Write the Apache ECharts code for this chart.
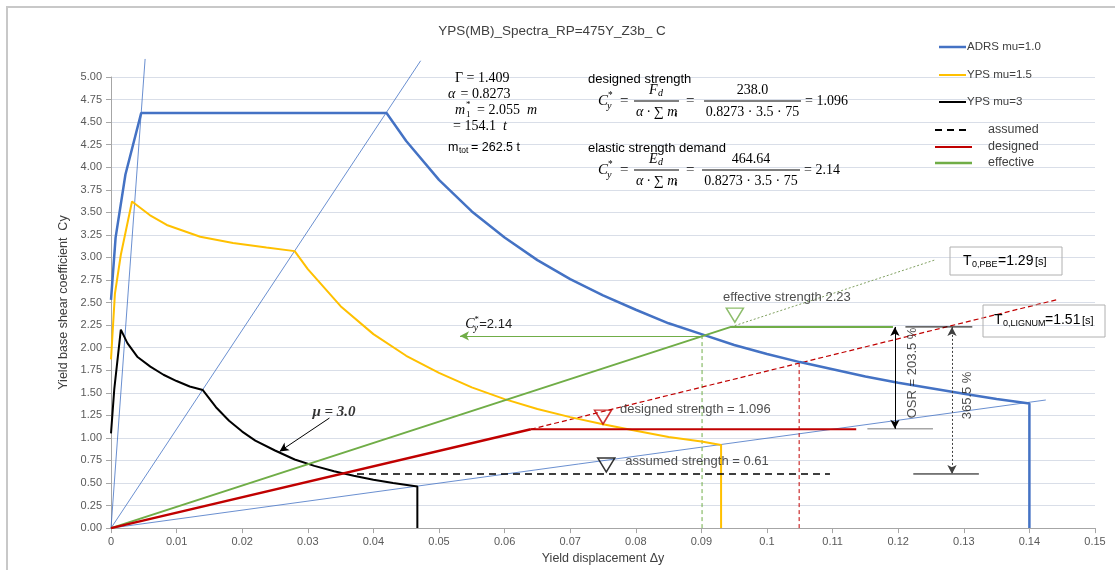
<!DOCTYPE html>
<html>
<head>
<meta charset="utf-8">
<script src="https://cdn.jsdelivr.net/npm/echarts@6/dist/echarts.min.js"></script>
<style>html,body{margin:0;padding:0;background:#fff;overflow:hidden}#c{width:1115px;height:570px}</style>
</head>
<body>
<div id="c"></div>
<script>
// ---------------- DATA ----------------
const chartTitle = 'YPS(MB)_Spectra_RP=475Y_Z3b_ C';
const xAxisName = 'Yield displacement Δy';
const yAxisName = 'Yield base shear coefficient  Cy';
const seriesNames = ['ADRS mu=1.0', 'YPS mu=1.5', 'YPS mu=3'];
const strengthNames = ['assumed', 'designed', 'effective'];

const adrs = [[0,2.53],[0.0007,3.22],[0.0022,3.92],[0.0046,4.6],[0.042,4.6],[0.045,4.29],[0.05,3.86],[0.055,3.51],[0.06,3.22],[0.065,2.97],[0.07,2.76],[0.075,2.58],[0.08,2.42],[0.085,2.27],[0.09,2.15],[0.095,2.03],[0.1,1.93],[0.105,1.84],[0.11,1.76],[0.115,1.68],[0.12,1.61],[0.125,1.55],[0.13,1.49],[0.135,1.43],[0.14,1.38],[0.14,0]];
const yps15 = [[0,1.87],[0.0006,2.6],[0.0015,3.03],[0.0032,3.62],[0.0059,3.47],[0.0085,3.36],[0.0136,3.23],[0.0186,3.16],[0.0237,3.11],[0.028,3.07],[0.03,2.87],[0.035,2.46],[0.04,2.15],[0.045,1.91],[0.05,1.72],[0.055,1.56],[0.06,1.43],[0.065,1.32],[0.07,1.23],[0.075,1.15],[0.08,1.08],[0.085,1.01],[0.09,0.96],[0.093,0.92],[0.093,0]];
const yps3 = [[0,1.05],[0.0005,1.54],[0.0015,2.2],[0.0025,2.05],[0.004,1.9],[0.006,1.79],[0.008,1.7],[0.01,1.63],[0.012,1.57],[0.014,1.53],[0.016,1.34],[0.018,1.19],[0.02,1.07],[0.022,0.97],[0.025,0.86],[0.028,0.76],[0.031,0.69],[0.034,0.63],[0.037,0.58],[0.04,0.535],[0.043,0.5],[0.0467,0.46],[0.0467,0]];

const periodLineTb = [[0,0],[0.0052,5.2]];
const periodLineTc = [[0,0],[0.0472,5.18]];
const periodLineTd = [[0,0],[0.1425,1.42]];

const effective = [[0,0],[0.0945,2.23],[0.1192,2.23]];
const effectiveExt = [[0.0945,2.23],[0.1255,2.97]];
const effectiveVert = [[0.0901,0],[0.0901,2.16]];
const designedRise = [[0,0],[0.064,1.096]];
const designedFlat = [[0.064,1.096],[0.1136,1.096]];
const designedExt = [[0.064,1.096],[0.1441,2.53]];
const designedVert = [[0.1049,0],[0.1049,1.84]];
const assumed = [[0.0375,0.6],[0.1096,0.6]];

const effMarker = [[0.0951,2.36]];
const desMarker = [[0.075,1.23]];
const assMarker = [[0.0755,0.70]];

const cyArrow = [[0.0901,2.13],[0.0532,2.13]];
const muArrow = [[0.0333,1.22],[0.0257,0.85]];
const osrArrow = [[0.1195,2.23],[0.1195,1.1]];
const totalArrow = [[0.1282,2.23],[0.1282,0.6]];
const osrTop = [[0.1211,2.23],[0.1313,2.23]];
const osrBottom = [[0.1153,1.1],[0.1253,1.1]];
const totalBottom = [[0.1223,0.6],[0.1323,0.6]];

const plainLabels = [
  ['effective strength 2.23', 0.0933, 2.56],
  ['designed strength = 1.096', 0.0776, 1.32],
  ['assumed strength = 0.61', 0.0784, 0.74]
];
const rotatedLabels = [
  ['OSR = 203.5 %', 0.1221, 1.72],
  ['365.5 %', 0.1305, 1.47]
];
const muLabel = ['μ = 3.0', 0.0307, 1.28];
const cyLabel = ['=2.14', 0.054, 2.26];

const paramLines = ['Γ = 1.409', 'α = 0.8273', '= 2.055', '= 154.1', '= 262.5 t'];
const formula1 = {title:'designed strength', num:'238.0', den:'0.8273 · 3.5 · 75', res:'= 1.096', sym:'F'};
const formula2 = {title:'elastic strength demand', num:'464.64', den:'0.8273 · 3.5 · 75', res:'= 2.14', sym:'E'};
const periodBoxes = [['0,PBE', '=1.29'], ['0,LIGNUM', '=1.51']];

// ---------------- CHART ----------------
const SANS = '"Liberation Sans", Arial, sans-serif';
const SERIF = '"Liberation Serif", "DejaVu Serif", serif';
const BLUE = '#4472C4', YEL = '#FFC000', GRN = '#70AD47', RED = '#C00000';

function seg(data, color, width, type, z, extra) {
  return Object.assign({
    type: 'line', data: data, showSymbol: false, symbol: 'none', silent: true,
    lineStyle: {color: color, width: width, type: type || 'solid'},
    z: z || 2, animation: false
  }, extra || {});
}
function arrow(pts, color, width, type, both) {
  return {
    type: 'line', data: pts, showSymbol: false, symbol: 'none', silent: true,
    lineStyle: {width: 0, opacity: 0}, z: 4,
    markLine: {
      silent: true, animation: false,
      symbol: [both ? 'arrow' : 'none', 'arrow'], symbolSize: [7, 9],
      label: {show: false},
      lineStyle: {color: color, width: width, type: type || 'solid'},
      emphasis: {disabled: true},
      data: [[{coord: pts[0]}, {coord: pts[1]}]]
    }
  };
}
function marker(data, color) {
  return {type: 'scatter', data: data, symbol: 'triangle', symbolRotate: 180, symbolSize: [17, 14],
    itemStyle: {color: 'rgba(255,255,255,0)', borderColor: color, borderWidth: 1.5}, silent: true, z: 5};
}

const series = [
  seg(periodLineTb, BLUE, 0.8, 'solid', 1, {clip: false}),
  seg(periodLineTc, BLUE, 0.8, 'solid', 1, {clip: false}),
  seg(periodLineTd, BLUE, 0.8, 'solid', 1),
  seg(effectiveExt, '#7FA060', 1, [2, 2], 1),
  seg(effectiveVert, GRN, 1, [4, 3], 1),
  seg(designedExt, RED, 1.2, [5, 3], 1),
  seg(designedVert, RED, 1, [4, 3], 1),
  seg(adrs, BLUE, 2.5, 'solid', 3, {name: seriesNames[0]}),
  seg(yps15, YEL, 2, 'solid', 3, {name: seriesNames[1]}),
  seg(yps3, '#000', 2, 'solid', 3, {name: seriesNames[2]}),
  seg(effective, GRN, 2, 'solid', 3),
  seg(designedRise, RED, 2.5, 'solid', 3),
  seg(designedFlat, RED, 2, 'solid', 3),
  seg(assumed, '#000', 1.6, [7, 5], 3),
  seg(osrTop, '#000', 1, 'solid', 3),
  seg(osrBottom, '#A6A6A6', 1.5, 'solid', 3),
  seg(totalBottom, '#000', 1, 'solid', 3),
  arrow(cyArrow, GRN, 1, 'solid', false),
  arrow(muArrow, '#000', 1, 'solid', false),
  arrow(osrArrow, '#000', 1, 'solid', true),
  arrow(totalArrow, '#404040', 1, [2, 2], true),
  marker(effMarker, GRN),
  marker(desMarker, RED),
  marker(assMarker, '#000'),
  {type: 'scatter', symbolSize: 0, silent: true, z: 6,
   data: plainLabels.map(l => ({value: [l[1], l[2]], name: l[0]})),
   label: {show: true, position: 'right', distance: 0, formatter: p => p.name,
           color: '#222', fontSize: 13, fontFamily: SANS}},
  {type: 'scatter', symbolSize: 0, silent: true, z: 6,
   data: rotatedLabels.map(l => ({value: [l[1], l[2]], name: l[0]})),
   label: {show: true, position: 'inside', rotate: 90, formatter: p => p.name,
           color: '#222', fontSize: 13, fontFamily: SANS}},
  {type: 'scatter', symbolSize: 0, silent: true, z: 6,
   data: [{value: [muLabel[1], muLabel[2]], name: muLabel[0]}],
   label: {show: true, position: 'right', distance: 0, formatter: p => p.name,
           color: '#000', fontSize: 15, fontWeight: 'bold', fontStyle: 'italic', fontFamily: SERIF}}
];

const chart = echarts.init(document.getElementById('c'), null, {renderer: 'canvas', width: 1115, height: 570});
chart.setOption({
  animation: false,
  backgroundColor: '#fff',
  grid: {left: 111, top: 77, width: 984, height: 457},
  xAxis: {
    type: 'value', min: 0, max: 0.15, interval: 0.01,
    axisLine: {show: true, lineStyle: {color: '#A6A6A6', width: 1}},
    axisTick: {show: true, length: 5, lineStyle: {color: '#A6A6A6'}},
    axisLabel: {color: '#595959', fontSize: 11, fontFamily: SANS, margin: 8,
      formatter: v => String(+v.toFixed(2))},
    splitLine: {show: false},
    name: xAxisName, nameLocation: 'middle', nameGap: 21,
    nameTextStyle: {color: '#404040', fontSize: 12.5, fontFamily: SANS}
  },
  yAxis: {
    type: 'value', min: 0, max: 5, interval: 0.25,
    axisLine: {show: true, lineStyle: {color: '#A6A6A6', width: 1}},
    axisTick: {show: true, length: 5, lineStyle: {color: '#A6A6A6'}},
    axisLabel: {color: '#595959', fontSize: 11, fontFamily: SANS, margin: 9,
      formatter: v => v.toFixed(2)},
    splitLine: {show: true, lineStyle: {color: '#D9DEE8', width: 1}},
    name: yAxisName, nameLocation: 'middle', nameGap: 38,
    nameTextStyle: {color: '#404040', fontSize: 12.5, fontFamily: SANS}
  },
  series: series
});

// ---------------- ANNOTATIONS (graphic) ----------------
const G = [];
function txt(x, y, text, o) {
  o = o || {};
  G.push({type: 'text', x: x, y: y, z: 100, silent: true, style: {
    text: text, fill: o.fill || '#000', fontSize: o.size || 13, fontFamily: o.family || SANS,
    fontStyle: o.italic ? 'italic' : 'normal', fontWeight: o.bold ? 'bold' : 'normal',
    align: o.align || 'left', verticalAlign: o.va || 'middle'}});
}
function line(x1, y1, x2, y2, color, w, dash) {
  G.push({type: 'line', z: 100, silent: true, shape: {x1: x1, y1: y1, x2: x2, y2: y2},
    style: {stroke: color, lineWidth: w, lineDash: dash || null}});
}
function rect(x, y, w, h, color) {
  G.push({type: 'rect', z: 99, silent: true, shape: {x: x, y: y, width: w, height: h},
    style: {fill: 'none', stroke: color, lineWidth: 1}});
}
function cyStar(x, y, fs) {
  txt(x, y, 'C', {family: SERIF, italic: true, size: fs});
  txt(x + fs * 0.66, y - fs * 0.33, '*', {family: SERIF, size: fs * 0.62});
  txt(x + fs * 0.6, y + fs * 0.33, 'y', {family: SERIF, italic: true, size: fs * 0.68});
}

// outer border
G.push({type: 'rect', z: 0, silent: true, shape: {x: 7, y: 7, width: 1120, height: 580},
  style: {fill: 'none', stroke: '#C8C8C8', lineWidth: 2}});
// title
txt(552, 31, chartTitle, {size: 13.5, fill: '#404040', align: 'center'});

// legend
const legY = [47, 75, 102];
[BLUE, YEL, '#000'].forEach((c, i) => {
  line(939, legY[i], 966, legY[i], c, i === 0 ? 2.5 : 2);
  txt(967, legY[i], seriesNames[i], {size: 11.5, fill: '#404040'});
});
const legY2 = [130, 147, 163];
line(935, 130, 971, 130, '#000', 2, [7, 5]);
line(935, 147, 972, 147, RED, 2);
line(935, 163, 972, 163, GRN, 2.5);
strengthNames.forEach((n, i) => txt(988, legY2[i], n, {size: 12.5, fill: '#404040'}));

// parameter block
txt(455, 78, paramLines[0], {family: SERIF, size: 14});
txt(448, 94, 'α', {family: SERIF, size: 14, italic: true});
txt(457, 94, paramLines[1].slice(1), {family: SERIF, size: 14});
txt(455, 110, 'm', {family: SERIF, size: 14, italic: true});
txt(466, 105, '*', {family: SERIF, size: 9});
txt(466, 115, '1', {family: SERIF, size: 9});
txt(477, 110, paramLines[2], {family: SERIF, size: 14});
txt(527, 110, 'm', {family: SERIF, size: 14, italic: true});
txt(453, 126, paramLines[3], {family: SERIF, size: 14});
txt(503, 126, 't', {family: SERIF, size: 14, italic: true});
txt(448, 148, 'm', {size: 12.5});
txt(459, 151, 'tot', {size: 8.5});
txt(471, 148, paramLines[4], {size: 12.5});

// formulas
function formula(f, titleY, barY, bar2x1, bar2x2) {
  txt(588, titleY, f.title, {size: 13});
  cyStar(598, barY, 15);
  txt(620, barY, '=', {family: SERIF, size: 15});
  line(634, barY, 679, barY, '#000', 1);
  txt(649, barY - 11, f.sym, {family: SERIF, size: 14, italic: true});
  txt(658, barY - 8, 'd', {family: SERIF, size: 10, italic: true});
  txt(636, barY + 11, 'α · ∑ m', {family: SERIF, size: 14, italic: true});
  txt(675, barY + 14, 'i', {family: SERIF, size: 9, italic: true});
  txt(686, barY, '=', {family: SERIF, size: 15});
  line(bar2x1, barY, bar2x2, barY, '#000', 1);
  txt((bar2x1 + bar2x2) / 2, barY - 11, f.num, {family: SERIF, size: 14, align: 'center'});
  txt((bar2x1 + bar2x2) / 2, barY + 11, f.den, {family: SERIF, size: 14, align: 'center'});
  txt(bar2x2 + 4, barY, f.res, {family: SERIF, size: 14});
}
formula(formula1, 79, 101, 704, 801);
formula(formula2, 148, 170, 702, 800);

// period boxes
rect(950, 247, 112, 28, '#B0B0B0');
txt(963, 261, 'T', {size: 14});
txt(972, 265, periodBoxes[0][0], {size: 9});
txt(998, 261, periodBoxes[0][1], {size: 14});
txt(1035, 262, '[s]', {size: 11});
rect(983, 305, 122, 32, '#B0B0B0');
txt(994, 320, 'T', {size: 14});
txt(1003, 324, periodBoxes[1][0], {size: 9});
txt(1045, 320, periodBoxes[1][1], {size: 14});
txt(1082, 321, '[s]', {size: 11});

// C*y = 2.14 label at data position
const pc = chart.convertToPixel({gridIndex: 0}, [cyLabel[1], cyLabel[2]]);
cyStar(pc[0], pc[1], 14);
txt(pc[0] + 14, pc[1], cyLabel[0], {size: 13, fill: '#222'});

chart.setOption({graphic: G});
</script>
</body>
</html>
